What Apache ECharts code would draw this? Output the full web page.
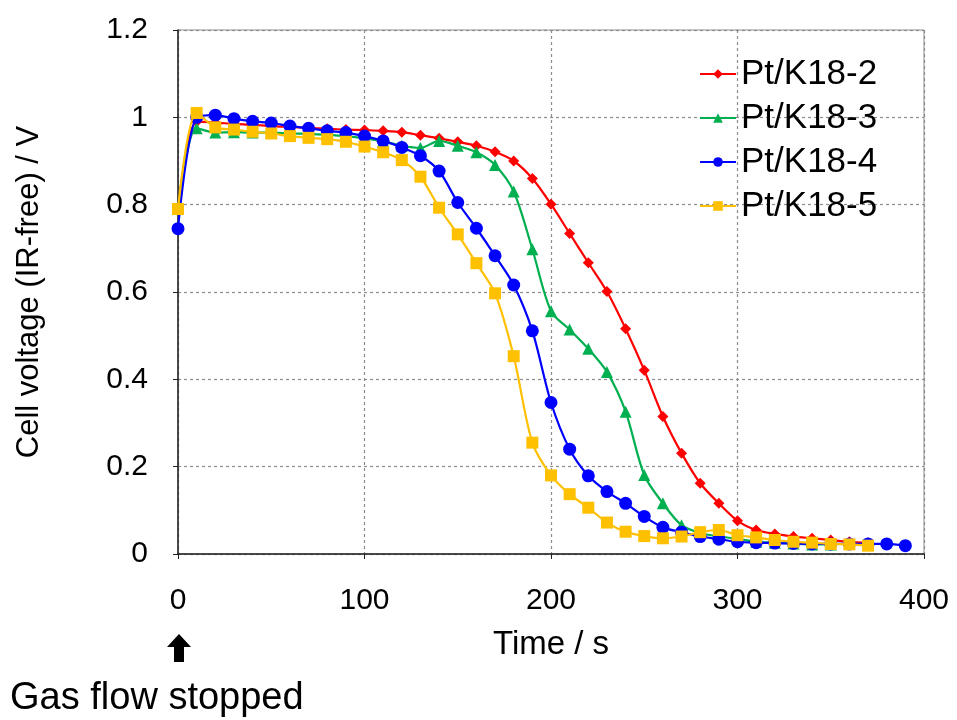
<!DOCTYPE html>
<html>
<head>
<meta charset="utf-8">
<script src="https://cdn.jsdelivr.net/npm/echarts@6/dist/echarts.min.js"></script>
<style>html,body{margin:0;padding:0;background:#fff}#c{width:957px;height:720px}</style>
</head>
<body>
<div id="c"></div>
<script>
const seriesNames = ['Pt/K18-2', 'Pt/K18-3', 'Pt/K18-4', 'Pt/K18-5'];
const timeRed = [0,10,20,30,40,50,60,70,80,90,100,110,120,130,140,150,160,170,180,190,200,210,220,230,240,250,260,270,280,290,300,310,320,330,340,350,360,370];
const voltRed = [0.79,0.99,0.988,0.985,0.983,0.98,0.978,0.976,0.974,0.972,0.971,0.969,0.966,0.959,0.952,0.944,0.935,0.921,0.900,0.860,0.801,0.734,0.667,0.601,0.516,0.421,0.315,0.231,0.162,0.116,0.076,0.055,0.046,0.040,0.036,0.032,0.028,0.026];
const timeGreen = [0,10,20,30,40,50,60,70,80,90,100,110,120,130,140,150,160,170,180,190,200,210,220,230,240,250,260,270,280,290,300,310,320,330,340,350];
const voltGreen = [0.79,0.975,0.965,0.966,0.965,0.965,0.963,0.962,0.96,0.957,0.952,0.945,0.935,0.93,0.946,0.935,0.92,0.891,0.83,0.698,0.556,0.514,0.47,0.417,0.326,0.181,0.116,0.066,0.048,0.04,0.035,0.028,0.026,0.024,0.022,0.022];
const timeBlue = [0,10,20,30,40,50,60,70,80,90,100,110,120,130,140,150,160,170,180,190,200,210,220,230,240,250,260,270,280,290,300,310,320,330,340,350,360,370,380,390];
const voltBlue = [0.745,1.0,1.005,0.997,0.991,0.987,0.980,0.975,0.969,0.965,0.957,0.946,0.931,0.912,0.877,0.805,0.746,0.683,0.616,0.511,0.347,0.240,0.179,0.143,0.116,0.086,0.061,0.050,0.040,0.034,0.028,0.026,0.025,0.024,0.023,0.023,0.023,0.023,0.023,0.019];
const timeYellow = [0,10,20,30,40,50,60,70,80,90,100,110,120,130,140,150,160,170,180,190,200,210,220,230,240,250,260,270,280,290,300,310,320,330,340,350,360,370];
const voltYellow = [0.79,1.01,0.977,0.972,0.967,0.963,0.957,0.953,0.950,0.944,0.933,0.920,0.902,0.864,0.793,0.732,0.666,0.597,0.453,0.255,0.180,0.137,0.106,0.072,0.051,0.041,0.036,0.040,0.050,0.055,0.043,0.038,0.032,0.028,0.026,0.023,0.022,0.019];
const xTicks = [0, 100, 200, 300, 400];
const yTicks = [0, 0.2, 0.4, 0.6, 0.8, 1, 1.2];

const colors = ['#FF0000', '#00B050', '#0000FF', '#FFC000'];
const symbols = ['diamond', 'triangle', 'circle', 'rect'];
const symSizes = [11, 12, 13, 12];
const times = [timeRed, timeGreen, timeBlue, timeYellow];
const volts = [voltRed, voltGreen, voltBlue, voltYellow];
const FONT = '"Liberation Sans", Arial, sans-serif';

const chart = echarts.init(document.getElementById('c'), null, {renderer: 'canvas'});
const series = seriesNames.map((n, i) => ({
  name: n,
  type: 'line',
  smooth: 0.3,
  data: times[i].map((t, k) => [t, volts[i][k]]),
  symbol: symbols[i],
  symbolSize: symSizes[i],
  showAllSymbol: true,
  lineStyle: {color: colors[i], width: 2.2},
  itemStyle: {color: colors[i]},
  z: 2 + i,
  animation: false
}));

chart.setOption({
  animation: false,
  backgroundColor: '#fff',
  grid: {left: 178, right: 33, top: 30, bottom: 166, show: true, borderColor: '#8c8c8c', borderWidth: 1},
  legend: {
    data: seriesNames,
    orient: 'vertical',
    left: 694,
    top: 51,
    itemWidth: 36,
    itemHeight: 12,
    itemGap: 8,
    textStyle: {fontFamily: FONT, fontSize: 35, lineHeight: 36, color: '#000'}
  },
  xAxis: {
    type: 'value', min: xTicks[0], max: xTicks[xTicks.length-1], interval: 100,
    axisLine: {show: true, lineStyle: {color: '#222', width: 1.5}},
    axisTick: {show: true, inside: false, length: 5, lineStyle: {color: '#222'}},
    axisLabel: {fontFamily: FONT, fontSize: 30, color: '#000', margin: 32},
    splitLine: {show: true, lineStyle: {color: '#8c8c8c', type: [3, 3], width: 1.2}},
    name: 'Time / s', nameLocation: 'middle', nameGap: 74,
    nameTextStyle: {fontFamily: FONT, fontSize: 33, color: '#000'}
  },
  yAxis: {
    type: 'value', min: yTicks[0], max: yTicks[yTicks.length-1], interval: 0.2,
    axisLine: {show: true, lineStyle: {color: '#222', width: 1.5}},
    axisTick: {show: true, inside: false, length: 5, lineStyle: {color: '#222'}},
    axisLabel: {fontFamily: FONT, fontSize: 30, color: '#000', margin: 30},
    splitLine: {show: true, lineStyle: {color: '#8c8c8c', type: [3, 3], width: 1.2}},
    name: 'Cell voltage (IR-free) / V', nameLocation: 'middle', nameGap: 133,
    nameTextStyle: {fontFamily: FONT, fontSize: 31, color: '#000'}
  },
  graphic: [
    {type: 'polygon', left: 167, top: 634,
     shape: {points: [[12,0],[24,13],[17,13],[17,28],[7,28],[7,13],[0,13]]},
     style: {fill: '#000'}},
    {type: 'text', left: 10, top: 680,
     style: {text: 'Gas flow stopped', font: '38px "Liberation Sans", Arial, sans-serif', fill: '#000'}}
  ],
  series: series
});
</script>
</body>
</html>
